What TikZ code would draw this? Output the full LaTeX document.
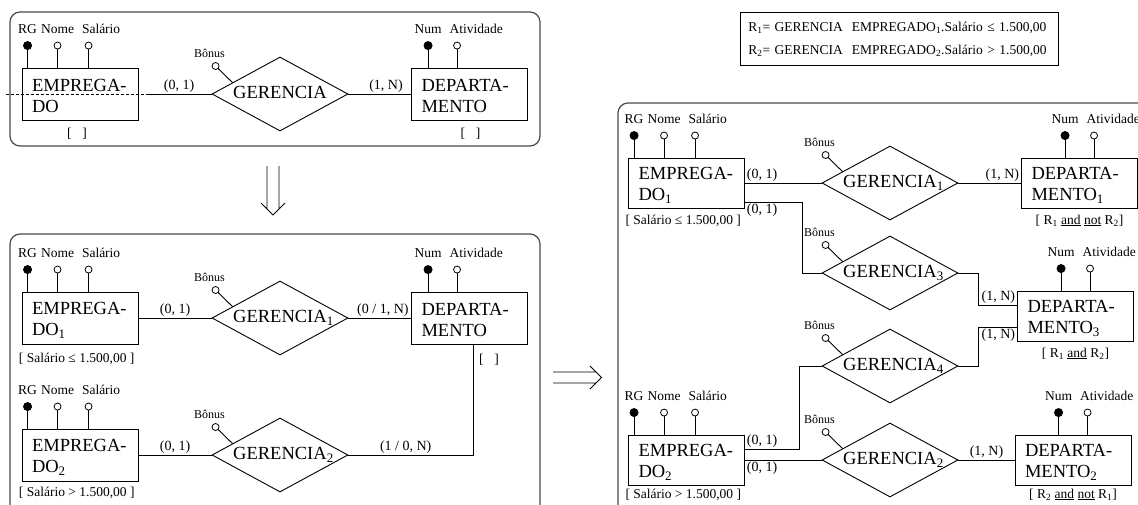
\documentclass[tikz,border=0pt]{standalone}
\usepackage{fontspec}
\setmainfont{Liberation Serif}
\usetikzlibrary{shapes.geometric,calc}
\definecolor{panelgray}{HTML}{4A4A4A}
\newcommand{\relname}[1]{\makebox[0pt]{GERENCIA\rlap{\textsubscript{#1}}}}
\newcommand{\empattrs}[1]{%
  \draw ([xshift=6pt]#1.north west) -- ++(0,-22) node[keyatt] (#1rg) {};
  \draw ([xshift=36pt]#1.north west) -- ++(0,-22) node[att] (#1nome) {};
  \draw ([xshift=67pt]#1.north west) -- ++(0,-22) node[att] (#1sal) {};
  \node[lab,anchor=base] at ([yshift=12pt]#1rg.center) {RG};
  \node[lab,anchor=base] at ([yshift=12pt]#1nome.center) {Nome};
  \node[lab,anchor=base west] at ([shift={(-7pt,12pt)}]#1sal.center) {Salário};}
\newcommand{\depattrs}[2]{%
  \draw ([xshift=#2]#1.north west) -- ++(0,-22) node[keyatt] (#1num) {};
  \draw ([xshift=#2+29pt]#1.north west) -- ++(0,-22) node[att] (#1ativ) {};
  \node[lab,anchor=base] at ([yshift=12pt]#1num.center) {Num};
  \node[lab,anchor=base west] at ([shift={(-8pt,12pt)}]#1ativ.center) {Atividade};}
\newcommand{\bonus}[1]{%
  \draw ([shift={(21pt,11.4pt)}]#1.west) -- ([shift={(4pt,28pt)}]#1.west) node[att] (#1b) {};
  \node[bon,anchor=base] at ([shift={(-6pt,9pt)}]#1b.center) {Bônus};}

\begin{document}
\begin{tikzpicture}[x=1pt,y=-1pt,line width=0.9pt,
  ent/.style={draw,inner xsep=10pt,inner ysep=0pt,minimum height=52pt,text width=96pt,align=left,
    font=\fontsize{18.5}{21}\selectfont,execute at begin node={\rule{0pt}{17pt}}},
  entr/.style={ent,minimum height=50pt},
  rel/.style={draw,diamond,inner sep=0pt,minimum width=136pt,minimum height=74pt,font=\fontsize{18.5}{21}\selectfont},
  keyatt/.style={circle,draw,fill=black,inner sep=0pt,minimum size=8pt},
  att/.style={circle,draw,fill=white,line width=0.8pt,inner sep=0pt,minimum size=7pt},
  lab/.style={font=\fontsize{13.5}{15}\selectfont,inner sep=0pt},
  card/.style={font=\fontsize{14}{16}\selectfont,inner sep=1.5pt},
  bon/.style={font=\fontsize{12}{13}\selectfont,inner sep=0pt},
  panel/.style={draw=panelgray,line width=1.2pt,rounded corners=10pt}]
  \useasboundingbox[fill=white] (0,0) rectangle (1138,504);
  \clip (0,0) rectangle (1138,504);

  \draw[panel] (10,12) rectangle (540,146);
  \node[ent] (emp) at (80,94) {EMPREGA-\\DO};
  \node[rel] (ger) at (280,94) {\relname{}};
  \node[ent] (dep) at (469.5,94) {DEPARTA-\\MENTO};
  \empattrs{emp} \depattrs{dep}{17pt} \bonus{ger}
  \coordinate (cut) at ([xshift=8pt]emp.east);
  \draw[dash pattern=on 3pt off 2pt] ([xshift=-16pt]emp.west) -- (cut);
  \draw (cut) -- node[card,above]{(0, 1)} (ger.west);
  \draw (ger.east) -- node[card,above,pos=0.6]{(1, N)} (dep.west);
  \node[lab] (empc) at ([shift={(-3pt,-13pt)}]emp.south) {[\hspace{11pt}]};
  \node[lab] (depc) at ([shift={(1pt,-13pt)}]dep.south) {[\hspace{11pt}]};

  \draw (267,166) -- (267,209) (279,166) -- (279,209) (261,203) -- (273,215) -- (285,203);

  \draw[panel] (10,234) rectangle (540,515);
  \node[ent] (emp1) at (80,318) {EMPREGA-\\DO\textsubscript{1}};
  \node[rel] (ger1) at (280,318) {\relname{1}};
  \node[ent] (dep1) at (469.5,318) {DEPARTA-\\MENTO};
  \node[ent] (emp2) at (80,455) {EMPREGA-\\DO\textsubscript{2}};
  \node[rel] (ger2) at (280,455) {\relname{2}};
  \empattrs{emp1} \empattrs{emp2} \depattrs{dep1}{17pt} \bonus{ger1} \bonus{ger2}
  \draw (emp1.east) -- node[card,above]{(0, 1)} (ger1.west);
  \draw (ger1.east) -- node[card,above,pos=0.55]{(0 / 1, N)} (dep1.west);
  \draw (emp2.east) -- node[card,above]{(0, 1)} (ger2.west);
  \draw (ger2.east) -| node[card,above,pos=0.23]{(1 / 0, N)} ([xshift=3.5pt]dep1.south);
  \node[lab,anchor=west] (emp1c) at ([shift={(-3pt,-14pt)}]emp1.south west) {[ Salário ≤ 1.500,00 ]};
  \node[lab,anchor=west] (emp2c) at ([shift={(-3pt,-11pt)}]emp2.south west) {[ Salário > 1.500,00 ]};
  \node[lab] (dep1c) at ([shift={(19.5pt,-15pt)}]dep1.south) {[\hspace{11pt}]};

  \draw (553,372) -- (596,372) (553,383) -- (596,383) (590,366) -- (601.5,377.5) -- (590,389);

  \node[draw,lab,line width=0.8pt,anchor=north west,text width=302pt,inner xsep=8pt,minimum height=53pt,align=left,
    font=\fontsize{13.5}{23}\selectfont] (rules) at (740,12)
    {R\textsubscript{1}= GERENCIA\ \ EMPREGADO\textsubscript{1}.Salário ≤ 1.500,00\\
     R\textsubscript{2}= GERENCIA\ \ EMPREGADO\textsubscript{2}.Salário > 1.500,00};

  \draw[panel] (618,103) rectangle (1170,520);
  \node[entr] (empr1) at (686.5,183) {EMPREGA-\\DO\textsubscript{1}};
  \node[rel] (gr1) at (890,183) {\relname{1}};
  \node[entr] (dr1) at (1079.5,183) {DEPARTA-\\MENTO\textsubscript{1}};
  \node[rel] (gr3) at (890,273) {\relname{3}};
  \node[entr] (dr3) at (1075.5,316) {DEPARTA-\\MENTO\textsubscript{3}};
  \node[rel] (gr4) at (890,366) {\relname{4}};
  \node[entr] (empr2) at (686.5,460) {EMPREGA-\\DO\textsubscript{2}};
  \node[rel] (gr2) at (890,460) {\relname{2}};
  \node[entr] (dr2) at (1073,460) {DEPARTA-\\MENTO\textsubscript{2}};
  \empattrs{empr1} \empattrs{empr2}
  \depattrs{dr1}{44pt} \depattrs{dr3}{44pt} \depattrs{dr2}{44pt}
  \bonus{gr1} \bonus{gr3} \bonus{gr4} \bonus{gr2}
  \draw (empr1.east) node[card,anchor=south west]{(0, 1)} -- (gr1.west);
  \draw ([yshift=-19pt]empr1.east) node[card,anchor=north west]{(0, 1)} -| ([xshift=-19pt]gr3.west) -- (gr3.west);
  \draw (gr1.east) -- (dr1.west) node[card,anchor=south east]{(1, N)};
  \draw (gr3.east) -- ++(20,0) |- ([yshift=11pt]dr3.west) node[card,anchor=south east]{(1, N)};
  \draw (gr4.east) -- ++(20,0) |- ([yshift=-11pt]dr3.west) node[card,anchor=north east]{(1, N)};
  \draw (gr4.west) -- ++(-22,0) |- ([yshift=11pt]empr2.east) node[card,anchor=south west]{(0, 1)};
  \draw (empr2.east) node[card,anchor=north west]{(0, 1)} -- (gr2.west);
  \draw (gr2.east) -- node[card,above]{(1, N)} (dr2.west);
  \node[lab,anchor=west] (empr1c) at ([shift={(-3pt,-12pt)}]empr1.south west) {[ Salário ≤ 1.500,00 ]};
  \node[lab,anchor=west] (empr2c) at ([shift={(-3pt,-9pt)}]empr2.south west) {[ Salário > 1.500,00 ]};
  \node[lab] (dr1c) at ([yshift=-12pt]dr1.south) {[ R\textsubscript{1} \underline{and} \underline{not} R\textsubscript{2}]};
  \node[lab] (dr3c) at ([yshift=-12pt]dr3.south) {[ R\textsubscript{1} \underline{and} R\textsubscript{2}]};
  \node[lab] (dr2c) at ([yshift=-9pt]dr2.south) {[ R\textsubscript{2} \underline{and} \underline{not} R\textsubscript{1}]};
\end{tikzpicture}
\end{document}
